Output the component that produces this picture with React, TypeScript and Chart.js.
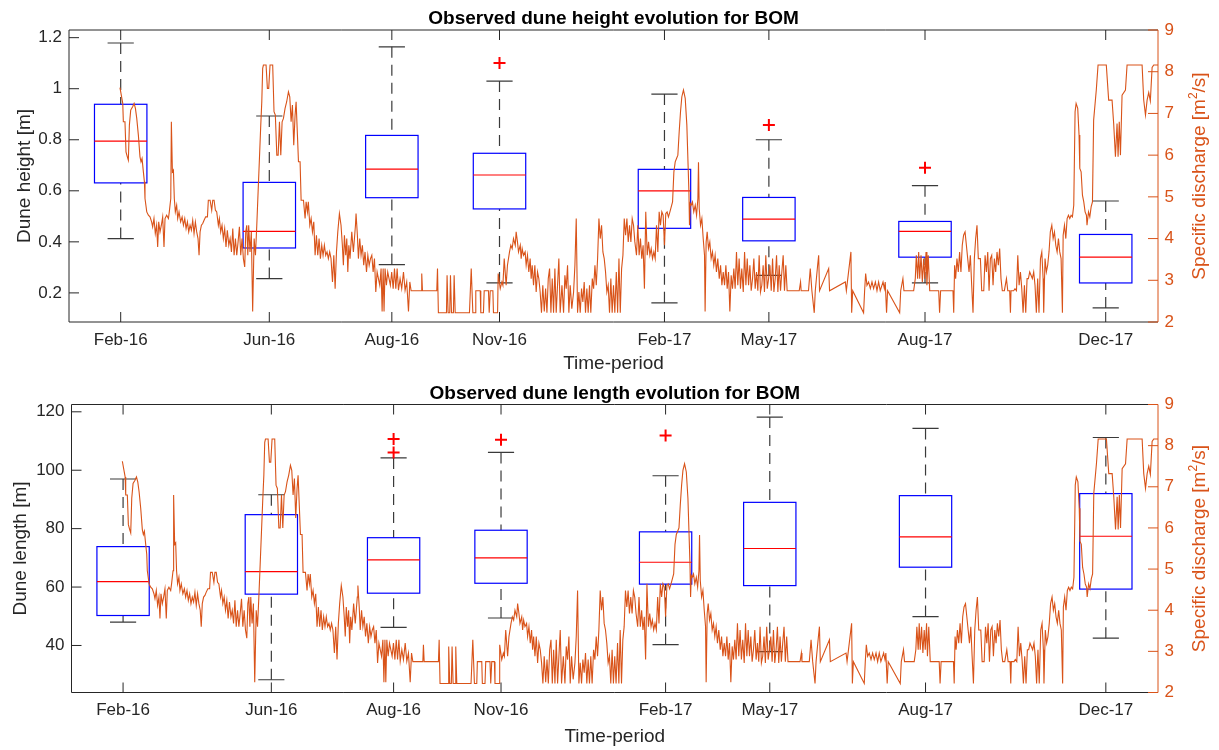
import React, { useEffect, useRef } from 'react';
import { Chart, registerables } from 'chart.js';

Chart.register(...registerables);

const FONT = '"Liberation Sans", Arial, Helvetica, sans-serif';
const INK = '#262626';
const DISCHARGE_COLOR = '#D95319';
const BOX_COLOR = '#0000FF';
const MEDIAN_COLOR = '#FF0000';
const WHISKER_COLOR = '#3a3a3a';
const OUTLIER_COLOR = '#FF0000';

const W = 1219;
const H = 375;
const TICK_LEN = 10;
const BOX_WIDTH_DAYS = 35.6;

// Time axis in days; each survey campaign sits at its own day.
const X_MIN = 0;
const X_MAX = 739.4;
const periodLabels = ['Feb-16', 'Jun-16', 'Aug-16', 'Nov-16', 'Feb-17', 'May-17', 'Aug-17', 'Dec-17'];
const periodDays = [35.1, 136.0, 219.2, 292.3, 404.3, 475.2, 581.2, 703.9];

// Dune height statistics [m]
const heightQ1 = [0.631, 0.376, 0.573, 0.529, 0.453, 0.404, 0.340, 0.239];
const heightMedian = [0.795, 0.441, 0.685, 0.662, 0.600, 0.489, 0.441, 0.340];
const heightQ3 = [0.939, 0.633, 0.817, 0.747, 0.684, 0.574, 0.480, 0.429];
const heightLow = [0.413, 0.256, 0.311, 0.239, 0.161, 0.269, 0.239, 0.141];
const heightHigh = [1.179, 0.893, 1.164, 1.030, 0.979, 0.800, 0.620, 0.560];
const heightOutliers = [[], [], [], [1.101], [], [0.858], [0.690], []];
const heightTicks = [0.2, 0.4, 0.6, 0.8, 1, 1.2];
const heightTickLabels = ['0.2', '0.4', '0.6', '0.8', '1', '1.2'];

// Dune length statistics [m]
const lengthQ1 = [50.26, 57.57, 57.9, 61.3, 61.0, 60.5, 66.8, 59.3];
const lengthMedian = [61.88, 65.3, 69.3, 69.98, 68.5, 73.2, 77.2, 77.4];
const lengthQ3 = [73.85, 84.79, 76.9, 79.45, 78.9, 89.0, 91.3, 92.0];
const lengthLow = [48.0, 28.27, 46.2, 49.4, 40.3, 37.9, 49.9, 42.5];
const lengthHigh = [96.99, 91.6, 104.2, 106.1, 98.1, 118.2, 114.3, 111.2];
const lengthOutliers = [[], [], [110.7, 106.1], [110.4], [111.9], [], [], []];
const lengthTicks = [40, 60, 80, 100, 120];
const lengthTickLabels = ['40', '60', '80', '100', '120'];

// Specific discharge axis [m2/s]
const dischargeTicks = [2, 3, 4, 5, 6, 7, 8, 9];
const dischargeTickLabels = ['2', '3', '4', '5', '6', '7', '8', '9'];

// Specific discharge record: [day, q]
const dischargeSeries: [number, number][] = [
  [34.6,7.62],[36.5,7.24],[36.9,6.80],[38.0,6.80],[38.7,6.08],[39.6,5.96],[40.3,5.88],[41.0,6.72],[41.9,7.08],[43.2,7.16],[44.2,7.24],[45.1,7.12],[46.0,6.88],[47.1,6.48],[48.2,5.96],[48.9,5.84],[49.6,5.92],[50.5,5.60],[51.2,5.36],[51.6,4.96],[52.8,4.64],[53.9,4.56],[55.0,4.52],[56.1,4.40],[56.8,4.28],[57.7,4.48],[58.6,4.12],[59.5,4.32],[60.2,3.80],[60.9,4.40],[61.8,4.16],[62.7,4.32],[63.6,4.52],[64.5,3.80],[65.2,4.48],[66.3,4.56],[67.5,4.48],[68.1,4.64],[69.1,4.96],[69.5,6.80],[70.2,5.60],[70.9,5.64],[71.5,4.96],[72.2,4.64],[73.1,4.80],[73.8,4.48],[74.7,4.64],[75.8,4.40],[76.8,4.52],[77.7,4.32],[78.6,4.48],[79.5,4.24],[80.4,4.40],[81.3,4.16],[82.2,4.32],[83.1,4.20],[84.0,4.44],[84.9,4.12],[85.8,4.40],[86.7,4.16],[87.6,4.00],[88.3,3.60],[89.0,4.16],[89.9,4.32],[90.8,4.36],[91.7,4.44],[92.8,4.52],[94.0,4.52],[94.6,4.92],[95.8,4.92],[96.9,4.68],[97.6,4.92],[98.5,4.92],[99.4,4.68],[100.3,4.64],[101.4,4.32],[102.1,4.48],[103.0,4.16],[103.9,4.32],[104.8,4.00],[105.7,4.24],[106.6,3.80],[107.5,4.20],[108.5,3.84],[109.4,4.00],[110.3,3.68],[111.2,4.24],[112.1,3.60],[113.0,4.00],[113.9,3.60],[114.8,3.92],[115.7,4.28],[116.6,3.60],[117.5,4.00],[118.4,3.52],[119.3,3.32],[120.0,4.16],[120.7,4.32],[121.4,3.60],[122.0,4.32],[122.9,3.68],[123.8,4.16],[124.7,2.25],[125.7,4.00],[126.6,3.60],[127.5,4.32],[128.4,5.12],[129.3,5.92],[130.2,6.72],[130.9,7.28],[131.5,8.08],[132.0,8.16],[133.8,8.16],[134.7,7.60],[135.6,7.60],[136.5,8.16],[138.3,8.16],[139.2,7.04],[140.1,6.96],[141.1,6.00],[142.0,6.00],[142.9,6.80],[143.8,6.00],[144.7,6.80],[145.6,6.88],
  [146.7,7.12],[147.8,7.28],[149.0,7.52],[149.9,7.40],[150.8,6.80],[151.7,7.20],[152.6,6.24],[153.5,6.96],[154.2,7.28],[155.1,6.48],[155.8,5.84],[156.9,5.84],[157.6,4.92],[159.2,4.92],[160.3,4.48],[161.0,4.88],[161.9,4.64],[162.5,4.88],[163.5,4.32],[164.4,4.48],[165.3,4.16],[166.2,4.40],[167.1,3.60],[168.0,4.08],[168.9,3.60],[169.8,4.00],[170.7,3.52],[171.6,3.84],[172.5,3.60],[173.4,3.84],[174.3,3.60],[175.2,3.68],[176.1,3.52],[177.0,3.68],[177.9,3.52],[178.9,2.96],[179.8,3.60],[180.7,2.80],[181.6,3.68],[182.5,4.16],[183.6,4.60],[184.7,4.32],[185.6,3.84],[186.3,3.36],[187.0,4.08],[187.9,3.60],[188.6,4.00],[189.3,3.20],[190.0,3.84],[190.8,3.52],[192.0,4.16],[193.1,3.68],[193.8,4.00],[194.5,4.32],[194.9,4.60],[195.8,4.08],[196.5,3.52],[197.4,4.00],[198.3,3.60],[199.2,3.84],[200.1,3.36],[201.0,3.68],[202.0,3.20],[202.9,3.60],[203.8,3.36],[204.7,3.52],[205.6,3.60],[206.5,3.20],[207.4,3.52],[208.3,2.72],[209.2,3.20],[210.1,3.04],[211.0,2.88],[211.9,3.28],[212.6,2.25],[213.3,3.28],[213.9,2.25],[214.6,3.28],[215.5,2.88],[216.4,3.20],[217.3,3.04],[218.2,2.88],[219.1,3.20],[220.1,2.80],[221.0,3.28],[221.9,2.80],[222.8,3.28],[223.7,2.76],[224.8,3.04],[225.9,2.80],[227.1,3.20],[228.2,2.76],[229.3,2.96],[230.5,2.25],[231.4,2.96],[232.3,2.75],[239.1,2.75],[239.5,3.16],[240.0,2.75],[249.7,2.75],[250.2,3.28],[250.8,2.22],[256.3,2.22],[256.7,3.12],[257.4,2.22],[258.5,2.22],[259.0,3.12],[259.7,2.22],[261.0,2.22],[261.5,3.12],[262.2,2.22],
  [271.9,2.22],[273.1,3.28],[274.2,2.22],[275.8,2.22],[276.2,2.75],[279.2,2.75],[279.6,2.22],[281.4,2.22],[281.9,2.75],[284.8,2.75],[285.3,2.22],[286.0,2.75],[287.8,2.75],[288.2,2.22],[291.0,2.22],[291.4,3.16],[292.8,2.80],[293.9,2.96],[294.6,2.88],[295.5,3.52],[296.8,2.88],[297.7,3.36],[299.1,3.68],[300.0,3.84],[300.9,3.76],[301.8,4.00],[303.0,3.84],[303.6,4.16],[304.5,3.92],[305.2,3.68],[306.4,3.84],[307.0,3.52],[307.7,3.76],[308.6,3.60],[309.7,3.68],[310.4,3.36],[311.3,3.60],[312.2,3.20],[313.1,3.52],[313.8,3.04],[314.5,3.36],[315.4,2.88],[316.3,3.36],[317.2,2.72],[318.1,3.20],[319.0,3.04],[319.9,2.72],[320.8,2.22],[321.7,2.88],[322.7,2.25],[323.6,2.80],[324.5,2.22],[325.4,3.04],[326.3,3.28],[327.2,2.22],[328.1,3.04],[329.0,2.22],[329.9,3.28],[330.8,2.22],[331.7,2.88],[332.6,3.52],[333.5,2.22],[334.7,2.88],[335.8,2.22],[336.7,3.12],[337.6,2.80],[338.5,3.36],[339.4,2.22],[340.3,2.88],[341.4,2.32],[342.6,2.72],[343.5,3.36],[344.4,4.48],[345.3,2.22],[346.2,2.72],[347.1,2.22],[348.0,2.80],[348.9,2.48],[349.8,2.96],[350.7,2.22],[351.6,2.80],[352.5,2.22],[353.4,2.88],[354.3,2.22],[355.3,3.04],[356.2,2.80],[357.1,3.36],[358.0,2.88],[358.9,3.52],[359.8,4.48],[360.7,4.00],[361.6,4.32],[362.5,3.68],[363.4,3.52],[364.3,3.20],[365.2,2.72],[366.1,2.88],[367.0,2.22],[367.9,3.04],[368.8,2.22],[369.7,2.88],[370.6,2.22],[371.6,3.20],[372.5,2.22],[373.4,3.52],[374.3,2.22],[375.2,3.28],[376.1,3.60],[377.0,4.48],[377.9,4.08],[378.8,4.48],[379.7,3.92],[380.6,4.32],[381.5,3.92],[382.4,4.48],[383.3,4.32],[384.2,3.92],
  [385.3,3.60],[386.2,4.32],[387.1,3.60],[388.0,4.00],[388.9,3.52],[389.8,3.84],[390.7,2.80],[391.6,4.64],[392.6,3.60],[393.5,3.92],[394.4,3.60],[395.3,3.76],[396.2,3.52],[397.1,3.68],[398.0,3.52],[398.9,4.32],[399.8,3.68],[400.7,4.64],[401.6,4.32],[402.5,4.64],[403.4,4.56],[404.3,3.84],[405.2,4.60],[406.1,4.64],[407.0,4.52],[408.0,4.64],[408.9,4.76],[409.8,4.88],[410.7,5.60],[411.6,5.84],[412.5,5.92],[413.4,6.00],[414.3,6.56],[415.2,7.04],[416.1,7.40],[417.2,7.56],[418.4,7.36],[419.5,6.72],[420.2,5.92],[420.9,5.12],[421.3,4.32],[421.8,4.84],[422.4,4.80],[423.3,4.88],[424.2,4.64],[425.2,4.80],[426.1,4.56],[427.0,4.96],[427.4,5.83],[427.9,4.72],[428.8,4.32],[429.7,4.48],[430.6,4.00],[431.5,3.60],[431.9,2.25],[432.6,3.92],[433.3,4.16],[434.2,3.76],[435.1,3.92],[436.0,3.52],[436.9,3.68],[437.8,3.36],[438.7,3.60],[439.6,3.20],[440.5,3.52],[441.5,3.04],[442.4,3.36],[443.3,2.88],[444.2,3.20],[445.1,2.88],[446.0,3.36],[446.9,2.80],[447.8,3.20],[448.7,2.25],[449.6,3.12],[450.5,2.80],[451.4,3.28],[452.3,2.80],[453.2,3.68],[454.1,2.88],[455.0,3.52],[455.9,2.80],[456.8,3.28],[457.8,2.72],[458.7,3.68],[459.6,2.88],[460.5,3.52],[461.4,2.88],[462.3,3.36],[463.2,2.75],[464.1,3.04],[465.0,3.52],[465.9,2.80],[466.8,3.20],[467.7,2.75],[468.6,3.60],[469.5,2.72],[470.4,2.88],[471.3,3.36],[472.2,2.72],[473.1,3.60],[474.1,2.80],[475.0,3.04],[475.9,3.36],[476.8,2.75],[477.7,3.52],[478.6,2.72],[479.5,3.04],[480.4,3.60],[481.3,2.72],[482.2,3.36],[483.1,2.75],[484.0,3.20],[484.9,3.60],[485.8,2.75],[486.7,3.36],[487.6,2.75],[495.8,2.75],[496.7,2.96],[497.1,2.75],[502.1,2.75],
  [503.3,3.28],[504.4,2.75],[506.0,2.22],[506.7,2.75],[508.3,3.36],[509.0,3.60],[509.6,2.75],[515.8,3.28],[516.4,2.75],[527.1,2.96],[527.8,2.75],[530.9,3.68],[531.4,2.22],[532.1,2.75],[539.5,2.22],[540.2,2.75],[540.9,3.16],[541.8,2.88],[542.9,2.96],[544.1,2.80],[545.2,2.96],[546.3,2.80],[547.5,2.96],[548.6,2.75],[549.7,2.96],[550.8,2.75],[552.7,2.96],[553.6,2.80],[554.2,2.96],[555.1,2.22],[555.8,2.75],[564.0,2.22],[564.7,2.75],[566.2,3.04],[566.9,2.75],[573.5,2.75],[574.6,3.04],[575.3,3.60],[576.2,3.04],[576.9,3.68],[577.6,3.04],[578.5,3.60],[579.4,2.96],[580.3,3.52],[581.0,3.04],[581.9,3.68],[582.5,2.88],[583.4,3.60],[584.4,2.75],[590.5,2.75],[591.1,2.22],[591.8,2.75],[600.2,2.75],[600.7,2.22],[601.3,3.36],[602.0,3.04],[602.9,3.52],[603.8,3.20],[604.7,3.68],[605.6,3.20],[606.5,3.84],[607.4,4.08],[608.4,4.16],[609.3,3.84],[610.2,3.52],[611.1,3.20],[612.0,3.60],[612.9,2.88],[613.8,2.22],[614.7,3.52],[615.6,4.00],[616.5,4.32],[617.4,3.52],
  [618.8,3.52],[619.7,2.75],[621.1,2.75],[622.0,3.60],[622.9,3.20],[623.8,3.68],[624.7,2.75],[625.6,3.52],[626.5,3.60],[627.4,2.88],[628.3,3.52],[629.2,3.20],[630.1,3.68],[631.0,3.36],[631.9,3.76],[632.8,3.04],[633.7,2.75],[635.1,2.75],[636.5,3.04],[637.4,2.75],[638.7,2.75],[639.2,2.22],[639.6,2.75],[641.4,2.75],[642.3,2.80],[643.3,2.75],[644.2,3.60],[645.1,2.88],[646.0,3.20],[646.9,2.80],[647.8,2.22],[648.7,2.88],[649.6,2.22],[650.5,3.04],[651.4,3.04],[652.3,3.20],[653.2,3.12],[654.1,3.04],[655.0,3.20],[655.9,2.88],[656.8,2.22],[657.7,3.04],[658.6,2.22],[659.6,3.52],[660.5,3.68],[661.4,3.04],[661.8,2.22],[662.7,3.52],[663.6,3.20],[664.5,3.36],[665.4,3.68],[666.3,4.16],[667.3,4.32],[668.2,4.00],[669.1,4.16],[670.0,3.84],[670.9,3.68],[671.8,4.00],[672.7,3.68],[673.6,3.52],[674.5,2.22],[675.0,4.08],[675.9,4.32],[676.8,4.00],[677.7,4.48],[678.6,4.56],[679.5,4.48],[680.4,4.56],[681.3,4.52],[682.2,4.80],[683.1,7.04],[683.8,7.24],[684.9,7.12],[685.8,6.48],[686.3,5.68],[687.2,5.60],[688.1,5.04],[689.0,4.88],[689.9,4.64],[690.8,4.56],[691.2,4.32],[692.2,4.64],[693.1,4.52],[694.0,4.76],[694.9,4.88],
  [695.7,6.84],[697.5,7.56],[698.7,8.16],[704.3,8.16],[705.9,7.32],[708.2,7.32],[709.3,6.76],[710.5,5.96],[711.6,6.76],[712.3,5.96],[713.1,6.80],[713.9,6.00],[715.0,7.44],[717.3,7.56],[718.4,8.16],[728.6,8.16],[729.7,7.32],[730.9,6.96],[732.0,7.32],[733.1,7.50],[734.2,7.30],[735.4,8.10],[736.5,8.16],[739.4,8.16],
];

interface PanelSpec {
  title: string;
  yTitle: string;
  yMin: number;
  yMax: number;
  yTicks: number[];
  yTickLabels: string[];
  q1: number[];
  median: number[];
  q3: number[];
  low: number[];
  high: number[];
  outliers: number[][];
  area: { left: number; right: number; top: number; bottom: number };
  titleY: number;
  xTitleY: number;
  yTitleX: number;
  y2TitleX: number;
}

const heightPanel: PanelSpec = {
  title: 'Observed dune height evolution for BOM',
  yTitle: 'Dune height [m]',
  yMin: 0.086,
  yMax: 1.23,
  yTicks: heightTicks,
  yTickLabels: heightTickLabels,
  q1: heightQ1,
  median: heightMedian,
  q3: heightQ3,
  low: heightLow,
  high: heightHigh,
  outliers: heightOutliers,
  area: { left: 69, right: 1158, top: 30, bottom: 322 },
  titleY: 24,
  xTitleY: 369,
  yTitleX: 29.5,
  y2TitleX: 1205,
};

const lengthPanel: PanelSpec = {
  title: 'Observed dune length evolution for BOM',
  yTitle: 'Dune length [m]',
  yMin: 23.9,
  yMax: 122.5,
  yTicks: lengthTicks,
  yTickLabels: lengthTickLabels,
  q1: lengthQ1,
  median: lengthMedian,
  q3: lengthQ3,
  low: lengthLow,
  high: lengthHigh,
  outliers: lengthOutliers,
  area: { left: 71.5, right: 1158, top: 29.5, bottom: 317.5 },
  titleY: 23.5,
  xTitleY: 366.5,
  yTitleX: 26,
  y2TitleX: 1205,
};

function createPanelChart(canvas: HTMLCanvasElement, p: PanelSpec) {
  const outlierPoints: { x: number; y: number }[] = [];
  p.outliers.forEach((vals, i) => vals.forEach((v) => outlierPoints.push({ x: periodDays[i], y: v })));

  const overlay = {
    id: 'duneOverlay',
    beforeDatasetsDraw(chart: any) {
      const { ctx } = chart;
      const x = chart.scales.x;
      const y = chart.scales.y;
      ctx.save();
      for (let i = 0; i < periodDays.length; i++) {
        const cx = x.getPixelForValue(periodDays[i]);
        const halfW = x.getPixelForValue(periodDays[i] + BOX_WIDTH_DAYS / 2) - cx;
        const capHalf = halfW / 2;
        const pq1 = y.getPixelForValue(p.q1[i]);
        const pq3 = y.getPixelForValue(p.q3[i]);
        const pmed = y.getPixelForValue(p.median[i]);
        const plow = y.getPixelForValue(p.low[i]);
        const phigh = y.getPixelForValue(p.high[i]);

        // dashed whiskers
        ctx.strokeStyle = WHISKER_COLOR;
        ctx.lineWidth = 1.2;
        ctx.setLineDash([11, 7]);
        ctx.beginPath();
        ctx.moveTo(cx, phigh);
        ctx.lineTo(cx, pq3);
        ctx.stroke();
        ctx.beginPath();
        ctx.moveTo(cx, plow);
        ctx.lineTo(cx, pq1);
        ctx.stroke();
        ctx.setLineDash([]);

        // whisker caps
        ctx.beginPath();
        ctx.moveTo(cx - capHalf, phigh);
        ctx.lineTo(cx + capHalf, phigh);
        ctx.moveTo(cx - capHalf, plow);
        ctx.lineTo(cx + capHalf, plow);
        ctx.stroke();

        // box
        ctx.strokeStyle = BOX_COLOR;
        ctx.lineWidth = 1.2;
        ctx.strokeRect(cx - halfW, pq3, halfW * 2, pq1 - pq3);

        // median
        ctx.strokeStyle = MEDIAN_COLOR;
        ctx.beginPath();
        ctx.moveTo(cx - halfW, pmed);
        ctx.lineTo(cx + halfW, pmed);
        ctx.stroke();
      }
      ctx.restore();
    },
    afterDraw(chart: any) {
      const { ctx, chartArea } = chart;
      const { left, right, top, bottom } = chartArea;
      const x = chart.scales.x;
      const y = chart.scales.y;
      const y2 = chart.scales.y2;
      ctx.save();

      // axes frame and inward ticks
      ctx.strokeStyle = INK;
      ctx.lineWidth = 1;
      ctx.beginPath();
      ctx.moveTo(left, top);
      ctx.lineTo(right, top);
      ctx.moveTo(left, top);
      ctx.lineTo(left, bottom);
      ctx.lineTo(right, bottom);
      p.yTicks.forEach((v) => {
        const py = y.getPixelForValue(v);
        ctx.moveTo(left, py);
        ctx.lineTo(left + TICK_LEN, py);
      });
      periodDays.forEach((d) => {
        const px = x.getPixelForValue(d);
        ctx.moveTo(px, bottom);
        ctx.lineTo(px, bottom - TICK_LEN);
        ctx.moveTo(px, top);
        ctx.lineTo(px, top + TICK_LEN);
      });
      ctx.stroke();

      ctx.strokeStyle = DISCHARGE_COLOR;
      ctx.beginPath();
      ctx.moveTo(right, top);
      ctx.lineTo(right, bottom);
      dischargeTicks.forEach((v) => {
        const py = y2.getPixelForValue(v);
        ctx.moveTo(right, py);
        ctx.lineTo(right - TICK_LEN, py);
      });
      ctx.stroke();

      const cxMid = (left + right) / 2;
      const cyMid = (top + bottom) / 2;

      // title
      ctx.fillStyle = '#000';
      ctx.font = `bold 19px ${FONT}`;
      ctx.textAlign = 'center';
      ctx.textBaseline = 'alphabetic';
      ctx.fillText(p.title, cxMid, p.titleY);

      // x axis title
      ctx.fillStyle = INK;
      ctx.font = `19px ${FONT}`;
      ctx.fillText('Time-period', cxMid, p.xTitleY);

      // left axis title
      ctx.save();
      ctx.translate(p.yTitleX, cyMid);
      ctx.rotate(-Math.PI / 2);
      ctx.fillText(p.yTitle, 0, 0);
      ctx.restore();

      // right axis title with superscript
      ctx.save();
      ctx.translate(p.y2TitleX, cyMid);
      ctx.rotate(-Math.PI / 2);
      ctx.fillStyle = DISCHARGE_COLOR;
      ctx.textAlign = 'left';
      const partA = 'Specific discharge [m';
      const sup = '2';
      const partB = '/s]';
      ctx.font = `19px ${FONT}`;
      const wa = ctx.measureText(partA).width;
      const wb = ctx.measureText(partB).width;
      ctx.font = `12px ${FONT}`;
      const ws = ctx.measureText(sup).width;
      const x0 = -(wa + ws + wb) / 2;
      ctx.font = `19px ${FONT}`;
      ctx.fillText(partA, x0, 0);
      ctx.font = `12px ${FONT}`;
      ctx.fillText(sup, x0 + wa, -8);
      ctx.font = `19px ${FONT}`;
      ctx.fillText(partB, x0 + wa + ws, 0);
      ctx.restore();

      ctx.restore();
    },
  };

  return new Chart(canvas, {
    type: 'line',
    data: {
      datasets: [
        {
          label: 'Specific discharge',
          data: dischargeSeries.map(([d, q]) => ({ x: d, y: q })),
          yAxisID: 'y2',
          xAxisID: 'x',
          borderColor: DISCHARGE_COLOR,
          borderWidth: 1.1,
          pointRadius: 0,
          tension: 0,
          fill: false,
        },
        {
          label: 'Outliers',
          data: outlierPoints,
          yAxisID: 'y',
          xAxisID: 'x',
          showLine: false,
          pointStyle: 'cross',
          pointRadius: 6,
          pointBorderWidth: 2,
          pointBorderColor: OUTLIER_COLOR,
          borderColor: OUTLIER_COLOR,
          backgroundColor: OUTLIER_COLOR,
        },
      ],
    } as any,
    options: {
      responsive: false,
      animation: false,
      devicePixelRatio: 1,
      layout: { padding: { top: p.area.top, left: 0, right: 0, bottom: 0 } },
      plugins: {
        legend: { display: false },
        tooltip: { enabled: false },
        title: { display: false },
      },
      scales: {
        x: {
          type: 'linear',
          position: 'bottom',
          min: X_MIN,
          max: X_MAX,
          grid: { display: false, drawTicks: false },
          border: { display: false },
          ticks: {
            autoSkip: false,
            maxRotation: 0,
            minRotation: 0,
            padding: 8,
            color: INK,
            font: { family: FONT, size: 17 },
            callback: (_v: any, i: number) => periodLabels[i],
          },
          afterBuildTicks: (s: any) => {
            s.ticks = periodDays.map((v) => ({ value: v }));
          },
          afterFit: (s: any) => {
            s.height = H - p.area.bottom;
          },
        },
        y: {
          type: 'linear',
          position: 'left',
          min: p.yMin,
          max: p.yMax,
          grid: { display: false, drawTicks: false },
          border: { display: false },
          ticks: {
            padding: 7,
            color: INK,
            font: { family: FONT, size: 17 },
            callback: (_v: any, i: number) => p.yTickLabels[i],
          },
          afterBuildTicks: (s: any) => {
            s.ticks = p.yTicks.map((v) => ({ value: v }));
          },
          afterFit: (s: any) => {
            s.width = p.area.left;
          },
        },
        y2: {
          type: 'linear',
          position: 'right',
          min: 2,
          max: 9,
          grid: { display: false, drawTicks: false },
          border: { display: false },
          ticks: {
            padding: 6.5,
            color: DISCHARGE_COLOR,
            font: { family: FONT, size: 17 },
            callback: (_v: any, i: number) => dischargeTickLabels[i],
          },
          afterBuildTicks: (s: any) => {
            s.ticks = dischargeTicks.map((v) => ({ value: v }));
          },
          afterFit: (s: any) => {
            s.width = W - p.area.right;
          },
        },
      },
    } as any,
    plugins: [overlay],
  });
}

function DunePanel({ spec, offsetTop }: { spec: PanelSpec; offsetTop: number }) {
  const ref = useRef<HTMLCanvasElement | null>(null);
  useEffect(() => {
    if (!ref.current) return;
    const chart = createPanelChart(ref.current, spec);
    return () => chart.destroy();
  }, [spec]);
  return (
    <canvas
      ref={ref}
      width={W}
      height={H}
      style={{ position: 'absolute', left: 0, top: offsetTop, width: W, height: H }}
    />
  );
}

export default function App() {
  return (
    <div
      style={{
        position: 'absolute',
        left: 0,
        top: 0,
        width: W,
        height: 2 * H,
        background: '#ffffff',
        overflow: 'hidden',
      }}
    >
      <DunePanel spec={heightPanel} offsetTop={0} />
      <DunePanel spec={lengthPanel} offsetTop={H} />
    </div>
  );
}
